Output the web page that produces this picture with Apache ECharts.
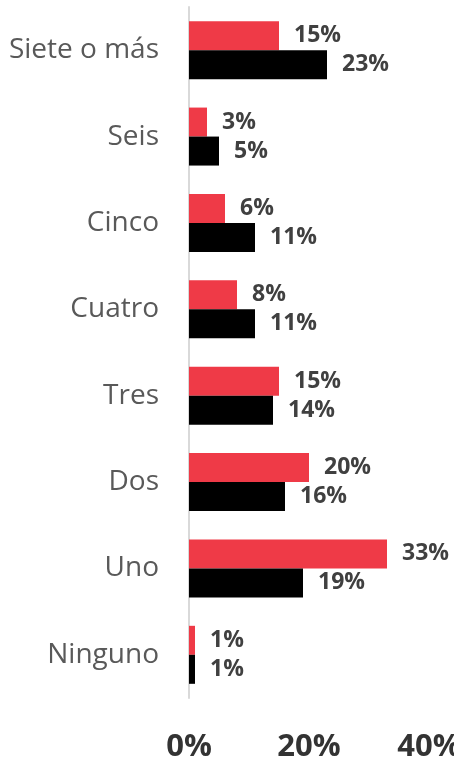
<!DOCTYPE html>
<html>
<head>
<meta charset="utf-8">
<script src="https://cdn.jsdelivr.net/npm/echarts@6/dist/echarts.min.js"></script>
<style>
  html, body { margin: 0; padding: 0; background: #fff; }
  #chart { width: 454px; height: 764px; }
</style>
</head>
<body>
<div id="chart"></div>
<script>
  // categorias de arriba hacia abajo
  const categories = ['Siete o más', 'Seis', 'Cinco', 'Cuatro', 'Tres', 'Dos', 'Uno', 'Ninguno']
  const redValues = [15, 3, 6, 8, 15, 20, 33, 1]
  const blackValues = [23, 5, 11, 11, 14, 16, 19, 1]
  const xTicks = [0, 20, 40]

  const chart = echarts.init(document.getElementById('chart'))

  const labelStyle = {
    show: true,
    position: 'right',
    distance: 15,
    formatter: '{c}%',
    fontFamily: 'Open Sans',
    fontWeight: 'bold',
    fontSize: 23,
    color: '#404040'
  }

  chart.setOption({
    animation: false,
    grid: {
      left: 189,
      right: 25,
      top: 7,
      bottom: 66,
      outerBoundsMode: 'none'
    },
    xAxis: {
      type: 'value',
      min: xTicks[0],
      max: xTicks[xTicks.length - 1],
      interval: 20,
      splitLine: {show: false},
      axisLine: {show: false},
      axisTick: {show: false},
      axisLabel: {
        margin: 34,
        formatter: '{value}%',
        fontFamily: 'Open Sans',
        fontWeight: 'bold',
        fontSize: 31,
        color: '#333333'
      }
    },
    yAxis: {
      type: 'category',
      inverse: true,
      data: categories,
      axisLine: {show: true, lineStyle: {color: '#D9D9D9', width: 2}},
      axisTick: {show: false},
      axisLabel: {
        margin: 30,
        fontFamily: 'Open Sans',
        fontSize: 28,
        color: '#595959'
      }
    },
    series: [
      {
        name: 'rojo',
        type: 'bar',
        data: redValues,
        barWidth: 29,
        barGap: '0%',
        itemStyle: {color: '#EF3A47'},
        label: labelStyle
      },
      {
        name: 'negro',
        type: 'bar',
        data: blackValues,
        barWidth: 29,
        barGap: '0%',
        itemStyle: {color: '#000000'},
        label: labelStyle
      }
    ]
  })
</script>
</body>
</html>
